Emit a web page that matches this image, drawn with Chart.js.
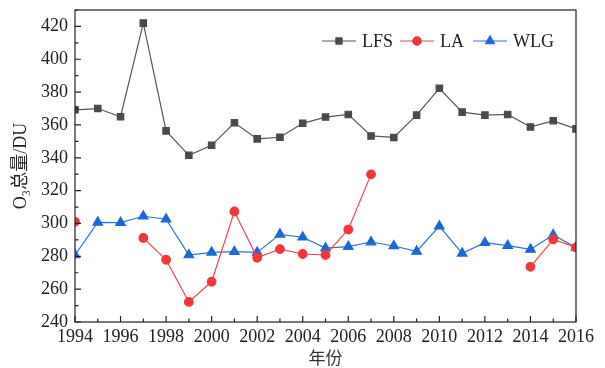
<!DOCTYPE html>
<html>
<head>
<meta charset="utf-8">
<script src="https://cdn.jsdelivr.net/npm/chart.js@4"></script>
<style>
  body { margin: 0; background: #fff; }
  #wrap { width: 605px; height: 368px; }
</style>
</head>
<body>
<div id="wrap"><canvas id="myChart" width="605" height="368"></canvas></div>
<script>
const years = [1994, 1995, 1996, 1997, 1998, 1999, 2000, 2001, 2002, 2003, 2004, 2005,
               2006, 2007, 2008, 2009, 2010, 2011, 2012, 2013, 2014, 2015, 2016];
const lfs = [369.2, 370, 365, 422, 356.4, 341.5, 347.6, 361.3, 351.5, 352.5, 361, 364.8,
             366.4, 353.3, 352.4, 366, 382.3, 367.8, 366, 366.4, 358.8, 362.5, 357.6];
const la = [301, null, null, 291.2, 277.9, 252.2, 264.5, 307.3, 279.1, 284.4, 281.4, 280.8,
            296.3, 329.9, null, null, null, null, null, null, 273.6, 290.3, 285.4];
const wlg = [280.8, 300.7, 300.5, 304.4, 302.6, 280.8, 282.4, 282.8, 282.4, 293.4, 291.6, 285,
             285.9, 288.7, 286.3, 283, 298.3, 281.8, 288.3, 286.5, 284.2, 293, 285.4];

const serif = '"Liberation Serif", "Times New Roman", serif';
const toPoints = vals => years.map((y, i) => ({ x: y, y: vals[i] }));

// inward ticks, box frame and legend with line + marker
const frame = {
    id: 'frame',
    afterDraw(chart) {
        const c = chart.ctx;
        const a = chart.chartArea;
        c.save();
        c.strokeStyle = '#222';
        c.lineWidth = 1.2;
        c.strokeRect(a.left, a.top, a.right - a.left, a.bottom - a.top);
        const xs = chart.scales.x, ys = chart.scales.y;
        c.beginPath();
        xs.ticks.forEach(t => {
            const px = xs.getPixelForValue(t.value);
            const len = t.value % 2 === 0 ? 6 : 3.5;
            c.moveTo(px, a.bottom); c.lineTo(px, a.bottom - len);
        });
        ys.ticks.forEach(t => {
            const py = ys.getPixelForValue(t.value);
            const len = t.value % 20 === 0 ? 6 : 3.5;
            c.moveTo(a.left, py); c.lineTo(a.left + len, py);
        });
        c.stroke();

        // legend
        const starts = [322, 400, 473];
        const ly = 41;
        c.font = '18px ' + serif;
        c.textBaseline = 'middle';
        chart.data.datasets.forEach((ds, i) => {
            const x0 = starts[i];
            c.strokeStyle = ds.borderColor;
            c.lineWidth = 1;
            c.beginPath(); c.moveTo(x0, ly); c.lineTo(x0 + 34, ly); c.stroke();
            c.fillStyle = ds.pointBackgroundColor;
            c.strokeStyle = ds.pointBorderColor;
            Chart.helpers.drawPoint(c, {
                pointStyle: ds.pointStyle, radius: ds.pointRadius, rotation: 0, borderWidth: 1
            }, x0 + 17, ly);
            c.fillStyle = '#222';
            c.fillText(ds.label, x0 + 40, ly + 1);
        });
        c.restore();
    }
};

const ctx = document.getElementById('myChart').getContext('2d');
const chart = new Chart(ctx, {
    type: 'line',
    data: {
        datasets: [{
            label: 'LFS',
            data: toPoints(lfs),
            borderColor: '#555555',
            pointBackgroundColor: '#4a4a4a',
            pointBorderColor: '#4a4a4a',
            pointStyle: 'rect',
            pointRadius: 4.5,
            borderWidth: 1.2
        }, {
            label: 'LA',
            data: toPoints(la),
            borderColor: '#f04448',
            pointBackgroundColor: '#f0383c',
            pointBorderColor: '#f0383c',
            pointStyle: 'circle',
            pointRadius: 4.3,
            borderWidth: 1.2
        }, {
            label: 'WLG',
            data: toPoints(wlg),
            borderColor: '#2a74d8',
            pointBackgroundColor: '#1c68d8',
            pointBorderColor: '#1c68d8',
            pointStyle: 'triangle',
            pointRadius: 5.5,
            borderWidth: 1.2
        }]
    },
    options: {
        responsive: false,
        animation: false,
        spanGaps: false,
        layout: { padding: { top: 10, right: 29, left: 10, bottom: 0 } },
        plugins: {
            legend: { display: false },
            tooltip: { enabled: false }
        },
        scales: {
            x: {
                type: 'linear',
                min: 1994,
                max: 2016,
                grid: { display: false, drawTicks: false },
                border: { display: false },
                ticks: {
                    stepSize: 1,
                    autoSkip: false,
                    maxRotation: 0,
                    padding: 4,
                    color: '#222',
                    font: { family: serif, size: 18 },
                    callback: v => (v % 2 === 0 ? String(v) : '')
                },
                title: {
                    display: true,
                    text: '年份',
                    color: '#333',
                    padding: { top: 0, bottom: 0 },
                    font: { family: '"Noto Sans CJK SC", sans-serif', size: 17 }
                },
                afterFit: s => { s.height = 46; }
            },
            y: {
                min: 240,
                max: 430,
                grid: { display: false, drawTicks: false },
                border: { display: false },
                ticks: {
                    stepSize: 10,
                    autoSkip: false,
                    padding: 7,
                    color: '#222',
                    font: { family: serif, size: 18 },
                    callback: v => (v % 20 === 0 ? String(v) : '')
                },
                title: {
                    display: true,
                    text: 'O₃总量/DU',
                    color: '#222',
                    padding: { top: 0, bottom: 0 },
                    font: { family: serif + ', "Noto Sans CJK SC"', size: 18 }
                },
                afterFit: s => { s.width = 65; s.paddingTop = 0; s.paddingBottom = 0; }
            }
        }
    },
    plugins: [frame]
});
</script>
</body>
</html>
